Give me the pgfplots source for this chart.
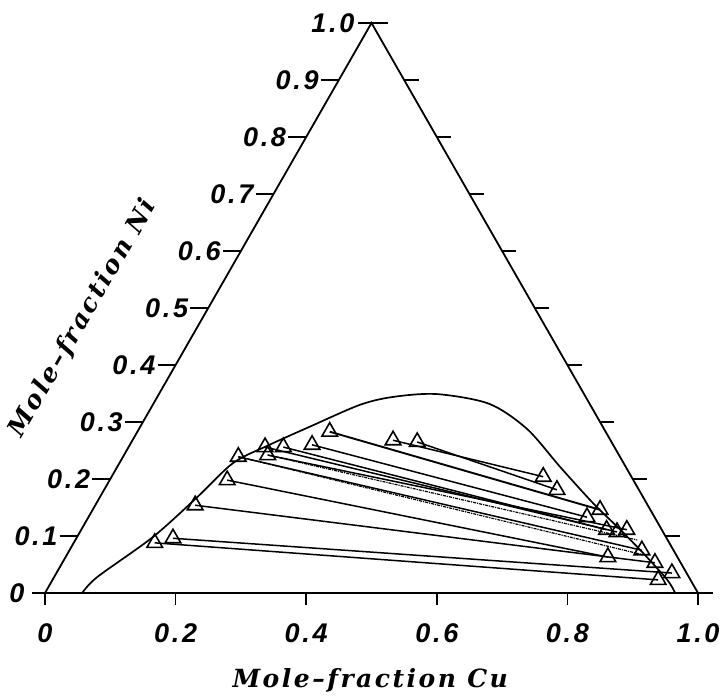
\documentclass[border=0pt]{standalone}
\usepackage{fontspec}
\usepackage{pgfplots}
\pgfplotsset{compat=1.18}
\newfontfamily\tickfont[LetterSpace=10]{Liberation Sans}
\newfontfamily\labfont[LetterSpace=10]{DejaVu Serif}
\tikzset{
  tickl/.style={font=\tickfont\itshape\bfseries\fontsize{27}{27}\selectfont, inner sep=1pt},
  titl/.style={font=\labfont\itshape\bfseries\fontsize{25}{25}\selectfont}}
\pgfplotsset{
  frame/.style={black, line width=1.8pt, no marks},
  tk/.style={black, line width=1.6pt, no marks, unbounded coords=jump},
  tie/.style={black, line width=1.5pt, mark=triangle, mark size=9pt,
    mark options={solid, line width=1.6pt, fill=white}},
  calc/.style={black, line width=1.2pt, densely dash dot, no marks}}
\begin{document}
\begin{tikzpicture}
\useasboundingbox (-45pt,-106pt) rectangle (678pt,593pt);
\begin{axis}[at={(0pt,0pt)}, anchor=south west, scale only axis,
  width=653pt, height=570pt, xmin=0, xmax=1, ymin=0, ymax=1,
  axis lines=none, clip=false]
% triangle and bottom axis
\addplot[frame] coordinates {(0,0) (0.5,1) (1,0)};
\addplot[frame] coordinates {(-0.02,0) (1.023,0)};
% ticks: left side
\addplot[tk] coordinates {
 (0.0224,0.1) (0.05,0.1) (nan,nan)
 (0.0724,0.2) (0.10,0.2) (nan,nan)
 (0.1224,0.3) (0.15,0.3) (nan,nan)
 (0.1724,0.4) (0.20,0.4) (nan,nan)
 (0.2224,0.5) (0.25,0.5) (nan,nan)
 (0.2724,0.6) (0.30,0.6) (nan,nan)
 (0.3224,0.7) (0.35,0.7) (nan,nan)
 (0.3724,0.8) (0.40,0.8) (nan,nan)
 (0.4224,0.9) (0.45,0.9) (nan,nan)
 (0.480,1.0) (0.525,1.0)};
% ticks: right side
\addplot[tk] coordinates {
 (0.95,0.1) (0.972,0.1) (nan,nan)
 (0.90,0.2) (0.922,0.2) (nan,nan)
 (0.85,0.3) (0.872,0.3) (nan,nan)
 (0.80,0.4) (0.822,0.4) (nan,nan)
 (0.75,0.5) (0.772,0.5) (nan,nan)
 (0.70,0.6) (0.722,0.6) (nan,nan)
 (0.65,0.7) (0.672,0.7) (nan,nan)
 (0.60,0.8) (0.622,0.8) (nan,nan)
 (0.55,0.9) (0.572,0.9)};
% ticks: bottom
\addplot[tk] coordinates {
 (0,0) (0,-0.021) (nan,nan) (0.2,0) (0.2,-0.021) (nan,nan)
 (0.4,0) (0.4,-0.021) (nan,nan) (0.6,0) (0.6,-0.021) (nan,nan)
 (0.8,0) (0.8,-0.021) (nan,nan) (1,0) (1,-0.021)};
% miscibility gap boundary
\addplot[black, line width=1.7pt, no marks, smooth, tension=0.5] coordinates {
 (0.057,0) (0.080,0.028) (0.165,0.098) (0.233,0.168) (0.288,0.228)
 (0.340,0.258) (0.406,0.292) (0.482,0.330) (0.533,0.344) (0.600,0.349)
 (0.680,0.332) (0.738,0.288) (0.789,0.221) (0.839,0.158) (0.881,0.111)
 (0.916,0.070) (0.953,0.023) (0.965,0)};
% tie lines
\addplot[tie] coordinates {(0.570,0.265) (0.784,0.181)};
\addplot[tie] coordinates {(0.533,0.268) (0.763,0.204)};
\addplot[tie, line width=1.9pt] coordinates {(0.436,0.283) (0.850,0.146)};
\addplot[tie] coordinates {(0.409,0.260) (0.830,0.133)};
\addplot[tie] coordinates {(0.365,0.256) (0.860,0.111)};
\addplot[tie] coordinates {(0.337,0.256) (0.876,0.107)};
\addplot[tie] coordinates {(0.341,0.242) (0.891,0.111)};
\addplot[tie] coordinates {(0.296,0.239) (0.914,0.075)};
\addplot[tie] coordinates {(0.279,0.198) (0.862,0.063)};
\addplot[tie] coordinates {(0.230,0.154) (0.934,0.053)};
\addplot[tie] coordinates {(0.196,0.096) (0.960,0.035)};
\addplot[tie] coordinates {(0.168,0.088) (0.939,0.023)};
\addplot[calc] coordinates {(0.341,0.242) (0.907,0.093)};
\addplot[calc] coordinates {(0.296,0.239) (0.916,0.067)};
% tick labels: left
\node[tickl, anchor=east, xshift=-19pt] at (axis cs:0.05,0.1) {0.1};
\node[tickl, anchor=east, xshift=-19pt] at (axis cs:0.10,0.2) {0.2};
\node[tickl, anchor=east, xshift=-19pt] at (axis cs:0.15,0.3) {0.3};
\node[tickl, anchor=east, xshift=-19pt] at (axis cs:0.20,0.4) {0.4};
\node[tickl, anchor=east, xshift=-19pt] at (axis cs:0.25,0.5) {0.5};
\node[tickl, anchor=east, xshift=-19pt] at (axis cs:0.30,0.6) {0.6};
\node[tickl, anchor=east, xshift=-19pt] at (axis cs:0.35,0.7) {0.7};
\node[tickl, anchor=east, xshift=-19pt] at (axis cs:0.40,0.8) {0.8};
\node[tickl, anchor=east, xshift=-19pt] at (axis cs:0.45,0.9) {0.9};
\node[tickl, anchor=east, xshift=-16pt] at (axis cs:0.50,1.0) {1.0};
\node[tickl] at (axis cs:-0.043,0) {0};
% tick labels: bottom
\node[tickl] at (axis cs:0,-0.07) {0};
\node[tickl] at (axis cs:0.2,-0.07) {0.2};
\node[tickl] at (axis cs:0.4,-0.07) {0.4};
\node[tickl] at (axis cs:0.6,-0.07) {0.6};
\node[tickl] at (axis cs:0.8,-0.07) {0.8};
\node[tickl] at (axis cs:1.0,-0.07) {1.0};
% axis titles
\node[titl] at (axis cs:0.498,-0.153) {Mole–fraction Cu};
\node[titl, rotate=60] at (axis cs:0.058,0.482) {Mole–fraction Ni};
\end{axis}
\end{tikzpicture}
\end{document}
